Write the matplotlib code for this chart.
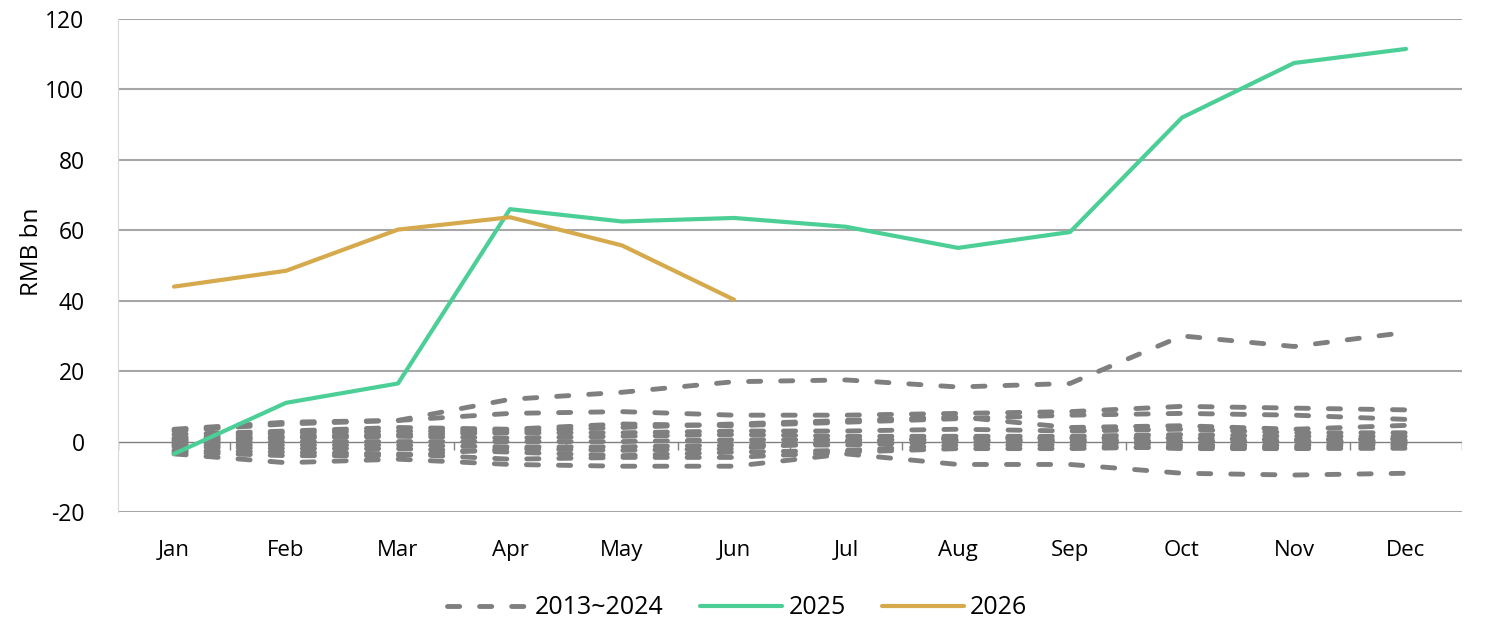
import numpy as np
import matplotlib
matplotlib.use('Agg')
import matplotlib.pyplot as plt
from matplotlib.lines import Line2D
from matplotlib import font_manager

plt.rcParams['font.family'] = ['Open Sans', 'DejaVu Sans']
plt.rcParams['axes.unicode_minus'] = False

months = ['Jan', 'Feb', 'Mar', 'Apr', 'May', 'Jun', 'Jul', 'Aug', 'Sep', 'Oct', 'Nov', 'Dec']

# 2013~2024 history (one row per year)
hist = [
    [3, 5, 6, 12, 14, 17, 17.5, 15.5, 16.5, 30, 27, 31],
    [-3.5, -6, -5, -6.5, -7, -7, -3.5, -6.5, -6.5, -9, -9.5, -9],
    [3.5, 5.5, 6, 8, 8.5, 7.5, 7.5, 8, 8.5, 10, 9.5, 9],
    [2, 3, 4, 3.5, 5, 4.5, 5.5, 6.5, 7.5, 8, 7.5, 6.3],
    [1, 2.5, 3, 3, 4, 5, 6, 7, 4, 4.5, 3.5, 4.6],
    [0.5, 1.5, 2, 2.5, 2.5, 3, 3, 3.5, 3, 3.5, 2.5, 2.5],
    [0, 1, 1.5, 1, 1.5, 2, 1.5, 1.5, 1.5, 2, 1.5, 1.5],
    [-0.5, 0, 0, 0, 0, 0.5, 0.5, 0.5, 0.5, 0, 0, 0.3],
    [-1, -1, -1, -1.5, -1.5, -1, -1, 0, 0, -1, -1, -0.5],
    [-1.5, -2, -2, -3, -4, -3, -2.5, -1, -1, -2, -2, -1.9],
    [-2.5, -3, -3.5, -5, -4.5, -4.5, -3, -2, -2, -1.5, -1.5, -1],
    [-3, -4, -4, -2, -2.5, -2, 0, 1, 1, 1, 0.5, 0.8],
]
y2025 = [-3.5, 11, 16.5, 66, 62.5, 63.5, 61, 55, 59.5, 92, 107.5, 111.5]
y2026 = [44, 48.5, 60.2, 63.7, 55.7, 40.3]

gray = '#7f7f7f'
green = '#4ccf97'
gold = '#d6aa4c'
dash = (2.5, 4.1)

fig = plt.figure(figsize=(15.07, 6.43), dpi=100)
ax = fig.add_axes([118/1507, 1-512/643, 1344/1507, 493/643])

x = np.arange(len(months))
for row in hist:
    ax.plot(x, row, color=gray, lw=3.5, dashes=dash, dash_capstyle='round', zorder=3)
ax.plot(x, y2025, color=green, lw=3, solid_capstyle='round', zorder=4)
ax.plot(np.arange(len(y2026)), y2026, color=gold, lw=3, solid_capstyle='round', zorder=4)

ax.set_xlim(-0.5, 11.5)
ax.set_ylim(-20, 120)
ax.set_yticks(np.arange(-20, 121, 20))
for v in np.arange(-20, 121, 20):
    if v != 0:
        ax.axhline(v, color='#a6a6a6', lw=1.5, zorder=1)
ax.axhline(0, color='#808080', lw=1.0, zorder=2)
ax.vlines(np.arange(-0.5, 12, 1), -2.3, 0, color='#808080', lw=1.0, zorder=2)

ax.set_xticks(x)
ax.set_xticklabels(months)
ax.tick_params(axis='x', length=0, pad=20, labelsize=16)
ax.tick_params(axis='y', length=0, pad=24, labelsize=16.5)
for s in ['top', 'right', 'bottom']:
    ax.spines[s].set_visible(False)
ax.spines['left'].set_color('#d9d9d9')
ax.set_ylabel('RMB bn', fontsize=17.5, va='center')
ax.yaxis.set_label_coords(-0.064, 0.527)

# legend text is a narrow face in the original
names = {f.name for f in font_manager.fontManager.ttflist}
if 'Liberation Sans Narrow' in names:
    leg_font = {'family': 'Liberation Sans Narrow', 'size': 22}
    leg_kw = dict(handlelength=2.7, handletextpad=0.2, columnspacing=1.17)
else:
    leg_font = {'family': 'Open Sans', 'size': 18}
    leg_kw = dict(handlelength=3.3, handletextpad=0.24, columnspacing=1.44)

handles = [
    Line2D([], [], color=gray, lw=3.5, dashes=dash, dash_capstyle='round'),
    Line2D([], [], color=green, lw=3, solid_capstyle='round'),
    Line2D([], [], color=gold, lw=3, solid_capstyle='round'),
]
fig.legend(handles, ['2013~2024', '2025', '2026'], loc='center',
           bbox_to_anchor=(737/1507, 1-608/643), ncol=3, frameon=False,
           prop=leg_font, **leg_kw)

fig.savefig('out.png', dpi=100)
